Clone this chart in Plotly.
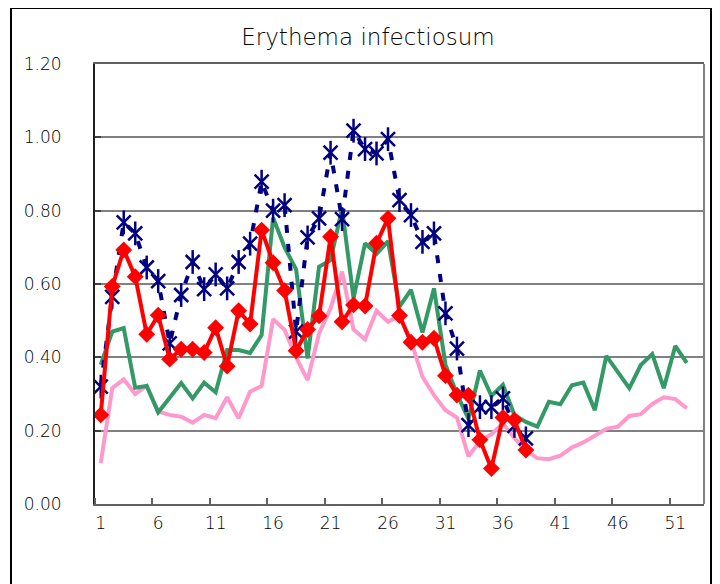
import plotly.graph_objects as go

title_text = "Erythema infectiosum"
tick_weeks = [1, 6, 11, 16, 21, 26, 31, 36, 41, 46, 51]
y_ticks = [0.0, 0.2, 0.4, 0.6, 0.8, 1.0, 1.2]

navy_vals = [0.32, 0.565, 0.768, 0.738, 0.645, 0.608, 0.438, 0.57, 0.66, 0.586,
             0.626, 0.588, 0.66, 0.71, 0.879, 0.80, 0.815, 0.47, 0.727, 0.779,
             0.958, 0.777, 1.018, 0.968, 0.956, 0.995, 0.829, 0.788, 0.715, 0.738,
             0.52, 0.424, 0.215, 0.264, 0.264, 0.288, 0.213, 0.179]

red_vals = [0.243, 0.593, 0.693, 0.62, 0.463, 0.515, 0.395, 0.422, 0.422, 0.413,
            0.481, 0.376, 0.527, 0.491, 0.747, 0.658, 0.582, 0.418, 0.476, 0.513,
            0.729, 0.497, 0.543, 0.54, 0.711, 0.779, 0.514, 0.441, 0.441, 0.452,
            0.35, 0.297, 0.297, 0.175, 0.097, 0.236, 0.229, 0.147]

green_vals = [0.38, 0.47, 0.48, 0.317, 0.322, 0.25, 0.29, 0.33, 0.288, 0.331,
              0.305, 0.42, 0.42, 0.412, 0.461, 0.781, 0.70, 0.64, 0.397, 0.647,
              0.665, 0.806, 0.561, 0.711, 0.682, 0.717, 0.538, 0.584, 0.468, 0.588,
              0.38, 0.30, 0.232, 0.364, 0.295, 0.325, 0.243, 0.224, 0.211, 0.279,
              0.272, 0.324, 0.331, 0.256, 0.404, 0.361, 0.316, 0.379, 0.409, 0.316,
              0.431, 0.385]

pink_vals = [0.111, 0.316, 0.34, 0.30, 0.322, 0.252, 0.243, 0.238, 0.222, 0.243,
             0.234, 0.291, 0.234, 0.306, 0.322, 0.504, 0.475, 0.40, 0.338, 0.465,
             0.534, 0.634, 0.476, 0.449, 0.527, 0.497, 0.513, 0.445, 0.347, 0.297,
             0.256, 0.236, 0.13, 0.172, 0.19, 0.22, 0.18, 0.145, 0.125, 0.122,
             0.132, 0.154, 0.168, 0.185, 0.205, 0.211, 0.24, 0.245, 0.273, 0.291,
             0.286, 0.261]


def weeks(vals):
    return list(range(1, len(vals) + 1))


FONT = "'DejaVu Sans', sans-serif"
NAVY = "#000080"

fig = go.Figure()

fig.add_trace(go.Scatter(x=weeks(pink_vals), y=pink_vals, mode="lines",
                         line=dict(color="#FF99CC", width=4), showlegend=False))
fig.add_trace(go.Scatter(x=weeks(green_vals), y=green_vals, mode="lines",
                         line=dict(color="#339966", width=4), showlegend=False))
fig.add_trace(go.Scatter(x=weeks(navy_vals), y=navy_vals, mode="lines+markers",
                         line=dict(color=NAVY, width=4, dash="8px,11px"),
                         marker=dict(symbol="x-thin-open", size=14, color=NAVY,
                                     line=dict(color=NAVY, width=2.5)),
                         showlegend=False))
fig.add_trace(go.Scatter(x=weeks(navy_vals), y=navy_vals, mode="markers",
                         marker=dict(symbol="line-ns-open", size=17, color=NAVY,
                                     line=dict(color=NAVY, width=2.5)),
                         showlegend=False))
fig.add_trace(go.Scatter(x=weeks(red_vals), y=red_vals, mode="lines+markers",
                         line=dict(color="#FF0000", width=4),
                         marker=dict(symbol="diamond", size=13, color="#FF0000"),
                         showlegend=False))

# page body adds an 8px offset; figure is sized so that it fills the window
W, H = 712, 576
fig.update_layout(
    width=W, height=H,
    margin=dict(l=87, r=16, t=56, b=80),
    paper_bgcolor="white", plot_bgcolor="white",
    font=dict(family=FONT, size=17, color="#000000", weight=200),
    title=dict(text=title_text, x=360 / W, xref="container", xanchor="center",
               y=1 - 29 / H, yref="container", yanchor="middle",
               font=dict(family=FONT, size=23, color="#000000", weight=200)),
    xaxis=dict(range=[0.5, 53.5], tickmode="array", tickvals=tick_weeks,
               ticktext=[str(t) for t in tick_weeks], ticks="", showgrid=False,
               zeroline=False, showline=True, linecolor="#606060", linewidth=2,
               mirror=True, ticklabelstandoff=3,
               minor=dict(tick0=0.5, dtick=5, ticks="inside", ticklen=6,
                          tickcolor="#606060", tickwidth=1.5, showgrid=False)),
    yaxis=dict(range=[0, 1.2], tickmode="array", tickvals=y_ticks,
               ticktext=[f"{v:.2f}" for v in y_ticks], ticks="inside", ticklen=6,
               tickcolor="#404040", tickwidth=2,
               showgrid=True, gridcolor="#808080", gridwidth=1.5,
               zeroline=False, showline=True, linecolor="#202020", linewidth=2,
               mirror=False, ticklabelstandoff=28),
    shapes=[
        dict(type="line", xref="paper", yref="paper", x0=1, x1=1, y0=0, y1=1,
             line=dict(color="#808080", width=2)),
        dict(type="rect", xref="paper", yref="paper",
             x0=(11 - 95) / 609, x1=(711 - 95) / 609,
             y0=(504 - 620) / 440, y1=(504 - 8) / 440,
             line=dict(color="#000000", width=2), fillcolor="rgba(0,0,0,0)",
             layer="below"),
    ],
)

fig.write_html("out.html")
